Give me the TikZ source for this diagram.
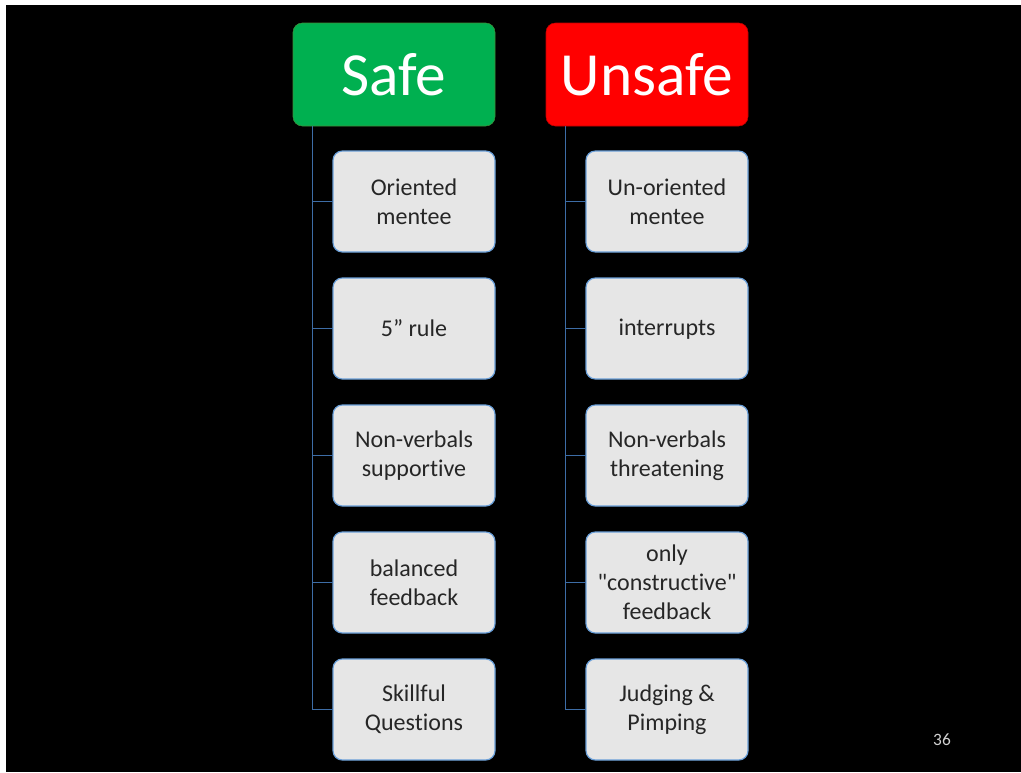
\documentclass[tikz,border=0pt]{standalone}
\usepackage{fontspec}
\setmainfont[Ligatures=CommonOff]{Carlito}
\usetikzlibrary{positioning}
\definecolor{safegreen}{HTML}{00B050}
\definecolor{safeedge}{HTML}{3F8F3A}
\definecolor{unsafered}{HTML}{FF0000}
\definecolor{unsafeedge}{HTML}{C00000}
\definecolor{itemfill}{HTML}{E6E6E6}
\definecolor{itemedge}{HTML}{6A9FD8}
\definecolor{linkblue}{HTML}{3D6DA6}
\tikzset{
  head/.style={rounded corners=7pt, minimum width=151.5pt, minimum height=77.25pt,
    inner sep=0pt, text=white, font=\fontsize{46}{50}\selectfont},
  item/.style={draw=itemedge, fill=itemfill, line width=0.9pt, rounded corners=7pt,
    minimum width=121.5pt, minimum height=75.75pt, inner sep=0pt, outer sep=0pt,
    align=center, text=black!85, font=\fontsize{18}{21.75}\selectfont},
  link/.style={draw=linkblue, line width=0.8pt}
}
\begin{document}
\begin{tikzpicture}[x=0.75pt,y=-0.75pt]
            \useasboundingbox (0,0) rectangle (1021,772);
            \fill[white] (0,0) rectangle (1021,772);
            \fill[black] (6,5) rectangle (1021,772);
            % column headers
            \node[head, fill=safegreen, draw=safeedge] (safe) at (394,74.5) {Safe};
            \node[head, fill=unsafered, draw=unsafeedge] (unsafe) at (647,74.5) {Unsafe};
            % safe items
            \node[item] (s1) at (414,201.5) {Oriented\\mentee};
            \node[item, below=19.5pt of s1] (s2) {5” rule};
            \node[item, below=19.5pt of s2] (s3) {Non-verbals\\supportive};
            \node[item, below=19.5pt of s3] (s4) {balanced\\feedback};
            \node[item, below=19.5pt of s4] (s5) {Skillful\\Questions};
            % unsafe items
            \node[item] (u1) at (667,201.5) {Un-oriented\\mentee};
            \node[item, below=19.5pt of u1] (u2) {interrupts\vphantom{”}};
            \node[item, below=19.5pt of u2] (u3) {Non-verbals\\threatening};
            \node[item, below=19.5pt of u3] (u4) {only\\\textquotedbl constructive\textquotedbl\\feedback};
            \node[item, below=19.5pt of u4] (u5) {Judging \&\\Pimping};
            % connectors
            \coordinate (safetrunk) at ([xshift=15pt]safe.south west);
            \coordinate (unsafetrunk) at ([xshift=15pt]unsafe.south west);
            \draw[link] (safetrunk) |- (s5.west);
            \draw[link] (safetrunk) |- (s1.west);
            \draw[link] (safetrunk) |- (s2.west);
            \draw[link] (safetrunk) |- (s3.west);
            \draw[link] (safetrunk) |- (s4.west);
            \draw[link] (unsafetrunk) |- (u5.west);
            \draw[link] (unsafetrunk) |- (u1.west);
            \draw[link] (unsafetrunk) |- (u2.west);
            \draw[link] (unsafetrunk) |- (u3.west);
            \draw[link] (unsafetrunk) |- (u4.west);
            \node[text=white!82!black, font=\fontsize{13}{15}\selectfont] (page) at (942,740) {36};
\end{tikzpicture}
\end{document}
